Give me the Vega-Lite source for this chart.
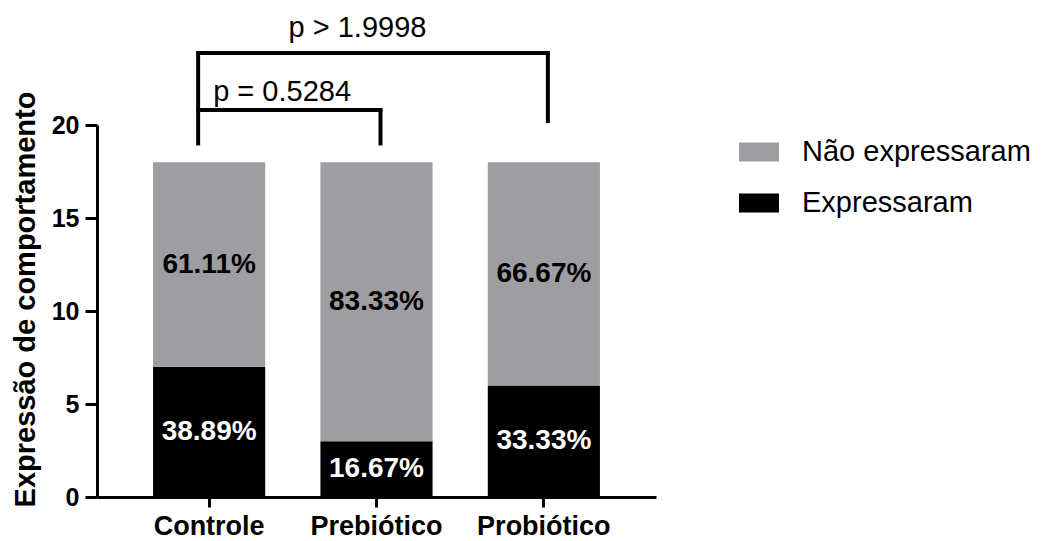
{
  "$schema": "https://vega.github.io/schema/vega-lite/v6.json",
  "width": 559,
  "height": 372,
  "autosize": {"type": "none"},
  "padding": {"left": 97, "top": 125, "right": 389, "bottom": 44},
  "background": "white",
  "config": {
    "view": {"stroke": null},
    "font": "Liberation Sans"
  },
  "datasets": {
    "bars": [
      {"grupo": "Controle", "resposta": "Expressaram", "n": 7, "pct": "38.89%"},
      {"grupo": "Controle", "resposta": "Não expressaram", "n": 11, "pct": "61.11%"},
      {"grupo": "Prebiótico", "resposta": "Expressaram", "n": 3, "pct": "16.67%"},
      {"grupo": "Prebiótico", "resposta": "Não expressaram", "n": 15, "pct": "83.33%"},
      {"grupo": "Probiótico", "resposta": "Expressaram", "n": 6, "pct": "33.33%"},
      {"grupo": "Probiótico", "resposta": "Não expressaram", "n": 12, "pct": "66.67%"}
    ],
    "brackets": [
      {"part": "left", "from": "Controle", "to": "Controle", "y": 18.9, "y2": 23.87},
      {"part": "right", "from": "Prebiótico", "to": "Prebiótico", "y": 18.9, "y2": 20.8},
      {"part": "right", "from": "Probiótico", "to": "Probiótico", "y": 20.1, "y2": 23.87},
      {"part": "h", "from": "Controle", "to": "Prebiótico", "y": 20.8, "y2": 20.8},
      {"part": "h", "from": "Controle", "to": "Probiótico", "y": 23.87, "y2": 23.87}
    ],
    "pvals": [
      {"label": "p = 0.5284", "grupo": "Controle", "y": 21.8, "pos": "a"},
      {"label": "p > 1.9998", "grupo": "Prebiótico", "y": 25.2, "pos": "b"}
    ]
  },
  "encoding": {
    "x": {
      "field": "grupo",
      "type": "nominal",
      "sort": ["Controle", "Prebiótico", "Probiótico"],
      "scale": {"paddingInner": 0.33, "paddingOuter": 0.335},
      "axis": {
        "title": null,
        "labelAngle": 0,
        "labelFont": "Liberation Sans",
        "labelFontWeight": "bold",
        "labelFontSize": 27,
        "labelColor": "black",
        "labelPadding": 6,
        "domainColor": "black",
        "domainWidth": 3,
        "tickColor": "black",
        "tickWidth": 3,
        "tickSize": 10
      }
    }
  },
  "layer": [
    {
      "data": {"name": "bars"},
      "mark": {"type": "bar", "clip": false},
      "encoding": {
        "y": {
          "field": "n",
          "type": "quantitative",
          "stack": "zero",
          "scale": {"domain": [0, 20], "nice": false},
          "axis": {
            "title": "Expressão de comportamento",
            "titleFont": "Liberation Sans",
            "titleFontWeight": "bold",
            "titleFontSize": 29,
            "titleColor": "black",
            "titlePadding": 11,
            "titleY": 174,
            "values": [0, 5, 10, 15, 20],
            "grid": false,
            "labelFont": "Liberation Sans",
            "labelFontWeight": "bold",
            "labelFontSize": 25,
            "labelColor": "black",
            "labelPadding": 6,
            "domainColor": "black",
            "domainWidth": 3,
            "tickColor": "black",
            "tickWidth": 3,
            "tickSize": 12
          }
        },
        "color": {
          "field": "resposta",
          "type": "nominal",
          "scale": {"domain": ["Não expressaram", "Expressaram"], "range": ["#9e9ea2", "#000000"]},
          "legend": {
            "title": null,
            "orient": "none",
            "legendX": 642,
            "legendY": 7,
            "labelFont": "Liberation Sans",
            "labelFontSize": 29,
            "labelColor": "black",
            "symbolType": "M-1,-0.475H1V0.475H-1Z",
            "symbolSize": 1600,
            "symbolStrokeWidth": 0,
            "labelOffset": 23,
            "rowPadding": 16,
            "labelLimit": 400
          }
        },
        "order": {"field": "resposta", "sort": "ascending"}
      }
    },
    {
      "data": {"name": "bars"},
      "transform": [
        {"stack": "n", "groupby": ["grupo"], "sort": [{"field": "resposta", "order": "ascending"}], "as": ["y0", "y1"]},
        {"calculate": "(datum.y0 + datum.y1) / 2", "as": "mid"}
      ],
      "mark": {"type": "text", "font": "Liberation Sans", "fontWeight": "bold", "fontSize": 28, "baseline": "middle", "align": "center"},
      "encoding": {
        "y": {"field": "mid", "type": "quantitative"},
        "text": {"field": "pct"},
        "color": {
          "condition": {"test": "datum.resposta === 'Expressaram'", "value": "#ffffff"},
          "value": "#000000"
        }
      }
    },
    {
      "data": {"name": "brackets"},
      "transform": [{"filter": "datum.part === 'left'"}],
      "mark": {"type": "rule", "strokeWidth": 4, "color": "black", "xOffset": -11, "x2Offset": -11, "clip": false},
      "encoding": {
        "x": {"field": "from", "type": "nominal"},
        "y": {"field": "y", "type": "quantitative"},
        "y2": {"field": "y2"}
      }
    },
    {
      "data": {"name": "brackets"},
      "transform": [{"filter": "datum.part === 'right'"}],
      "mark": {"type": "rule", "strokeWidth": 4, "color": "black", "xOffset": 4, "x2Offset": 4, "clip": false},
      "encoding": {
        "x": {"field": "from", "type": "nominal"},
        "y": {"field": "y", "type": "quantitative"},
        "y2": {"field": "y2"}
      }
    },
    {
      "data": {"name": "brackets"},
      "transform": [{"filter": "datum.part === 'h'"}],
      "mark": {"type": "rule", "strokeWidth": 4, "color": "black", "xOffset": -13, "x2Offset": 6, "clip": false},
      "encoding": {
        "x": {"field": "from", "type": "nominal"},
        "x2": {"field": "to"},
        "y": {"field": "y", "type": "quantitative"}
      }
    },
    {
      "data": {"name": "pvals"},
      "transform": [{"filter": "datum.pos === 'a'"}],
      "mark": {"type": "text", "font": "Liberation Sans", "fontSize": 29, "align": "left", "baseline": "middle", "dx": 4, "color": "black"},
      "encoding": {
        "x": {"field": "grupo", "type": "nominal"},
        "y": {"field": "y", "type": "quantitative"},
        "text": {"field": "label"}
      }
    },
    {
      "data": {"name": "pvals"},
      "transform": [{"filter": "datum.pos === 'b'"}],
      "mark": {"type": "text", "font": "Liberation Sans", "fontSize": 29, "align": "center", "baseline": "middle", "dx": -19, "color": "black"},
      "encoding": {
        "x": {"field": "grupo", "type": "nominal"},
        "y": {"field": "y", "type": "quantitative"},
        "text": {"field": "label"}
      }
    }
  ]
}
